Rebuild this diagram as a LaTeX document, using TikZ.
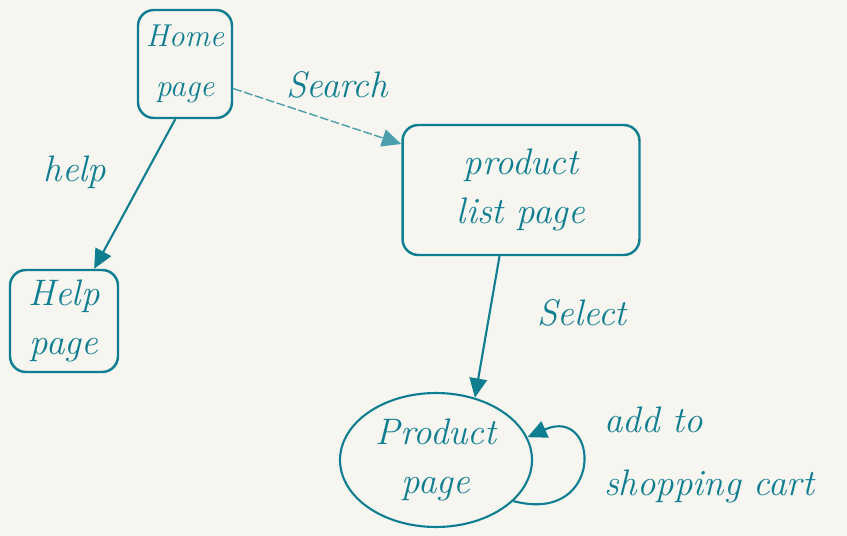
\documentclass[tikz,border=0pt]{standalone}
\usetikzlibrary{arrows.meta,shapes.geometric}
\definecolor{ink}{HTML}{0F7E90}
\definecolor{paper}{HTML}{F6F5F0}

\begin{document}
\begin{tikzpicture}[x=0.02cm,y=-0.02cm,
  hand/.style={text=ink,font=\fontsize{21}{28}\selectfont\itshape},
  page/.style={hand,draw=ink,line width=1.4pt,rounded corners=9pt,align=center,inner sep=0pt},
  blob/.style={hand,draw=ink,line width=1.2pt,ellipse,align=center,inner sep=0pt},
  flow/.style={draw=ink,line width=1.2pt,-{Triangle[length=11pt,width=10pt]}},
  faint/.style={flow,line width=0.8pt,draw=ink!75,dash pattern=on 5pt off 1.5pt},
  tag/.style={hand,align=left}]

  % paper
  \fill[paper] (0,0) rectangle (847,536);
  \useasboundingbox (0,0) rectangle (847,536);

  % pages
  \node[page,minimum width=1.88cm,minimum height=2.16cm,font=\fontsize{18}{28}\selectfont\itshape] (home) at (185,64) {Home\\page};
  \node[page,minimum width=4.74cm,minimum height=2.60cm] (plist) at (521,190) {product\\list page};
  \node[page,minimum width=2.16cm,minimum height=2.04cm] (help) at (64,321) {Help\\page};
  \node[blob,minimum width=3.84cm,minimum height=2.68cm] (pp) at (436,460) {Product\\page};

  % transitions
  \draw[flow] (home.-100) -- (help.60);
  \draw[faint] (home.-27) -- (plist.159);
  \draw[flow] (plist.-108) -- (pp.58);
  \draw[flow] (pp.-28) .. controls (605,525) and (600,405) .. (pp.14);

  % transition labels
  \node[hand] (lhelp) at (75,172) {help};
  \node[hand] (lsearch) at (337,85) {Search};
  \node[hand] (lselect) at (582,313) {Select};
  \node[tag,anchor=west,font=\fontsize{21}{36}\selectfont\itshape] (lcart) at (598,455) {add to\\shopping cart};
\end{tikzpicture}
\end{document}
